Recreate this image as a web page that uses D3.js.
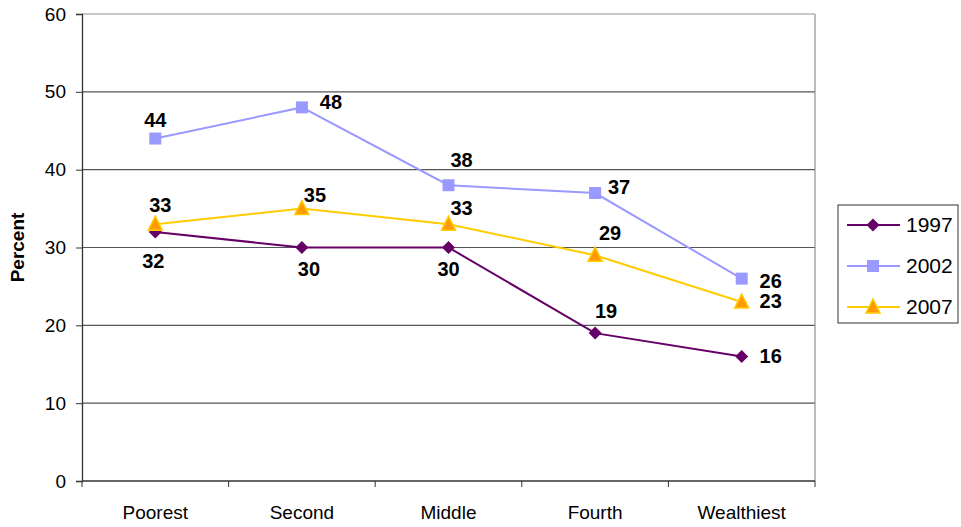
<!DOCTYPE html>
<html lang="en">
<head>
  <meta charset="utf-8">
  <title>Percent by wealth quintile</title>
  <script src="https://d3js.org/d3.v7.min.js"></script>
  <style>
    body { margin: 0; background: #fff; }
    text { font-family: "Liberation Sans", Arial, sans-serif; }
  </style>
</head>
<body>
<div class="chart"></div>
<script>

// categories and values
var categories = ["Poorest", "Second", "Middle", "Fourth", "Wealthiest"];
var years = ["1997", "2002", "2007"];
var values1997 = [32, 30, 30, 19, 16];
var values2002 = [44, 48, 38, 37, 26];
var values2007 = [33, 35, 33, 29, 23];
var yTicks = [0, 10, 20, 30, 40, 50, 60];

// where each data label sits relative to its point (dx, dy)
var labelOffsets = {
  "1997": [[-2, 29], [7, 21], [0, 21], [11, -22], [29, 0]],
  "2002": [[0, -19], [29, -5], [13, -25], [24, -6], [29, 2]],
  "2007": [[5, -19], [13, -14], [13, -16], [15, -22], [29, -1]]
};

var series = [
  {name: years[0], values: values1997, color: "#660066", marker: "diamond"},
  {name: years[1], values: values2002, color: "#9999ff", marker: "square"},
  {name: years[2], values: values2007, color: "#ffcc00", marker: "triangle"}
];

var W = 961, H = 527;
var margin = {top: 14, right: 146, bottom: 46, left: 82};
var width = W - margin.left - margin.right,
    height = H - margin.top - margin.bottom;

var svg = d3.select(".chart").append("svg")
    .attr("width", W)
    .attr("height", H);

var g = svg.append("g")
    .attr("transform", "translate(" + margin.left + "," + margin.top + ")");

var xScale = d3.scaleBand()
    .domain(categories)
    .range([0, width]);

var yScale = d3.scaleLinear()
    .domain([0, 60])
    .range([height, 0]);

function xc(i) { return xScale(categories[i]) + xScale.bandwidth() / 2; }

// gridlines
g.selectAll(".grid")
    .data(yTicks.slice(1))
  .enter().append("line")
    .attr("x1", 0)
    .attr("x2", width)
    .attr("y1", function(d) { return yScale(d); })
    .attr("y2", function(d) { return yScale(d); })
    .attr("stroke", function(d) { return d == 60 ? "#909090" : "#555"; })
    .attr("stroke-width", 1.2);

// right border of plot area
g.append("line")
    .attr("x1", width).attr("x2", width)
    .attr("y1", 0).attr("y2", height)
    .attr("stroke", "#909090")
    .attr("stroke-width", 1.2);

// y axis
var yAxis = g.append("g")
    .call(d3.axisLeft(yScale).tickValues(yTicks).tickSize(6).tickPadding(10));
yAxis.select(".domain").attr("stroke", "#333").attr("stroke-width", 1.3);
yAxis.selectAll(".tick line").attr("stroke", "#333");
yAxis.selectAll("text")
    .attr("font-size", 19)
    .attr("fill", "#000")
    .style("font-family", "Liberation Sans, Arial, sans-serif");

// x axis with ticks at category boundaries
var xAxis = g.append("g")
    .attr("transform", "translate(0," + height + ")");
xAxis.append("line")
    .attr("x1", 0).attr("x2", width)
    .attr("stroke", "#333").attr("stroke-width", 1.3);
xAxis.selectAll(".xtick")
    .data(d3.range(categories.length + 1))
  .enter().append("line")
    .attr("x1", function(i) { return i * xScale.bandwidth(); })
    .attr("x2", function(i) { return i * xScale.bandwidth(); })
    .attr("y1", 0).attr("y2", 6)
    .attr("stroke", "#333");
xAxis.selectAll(".xlabel")
    .data(categories)
  .enter().append("text")
    .attr("x", function(d, i) { return xc(i); })
    .attr("y", 38)
    .attr("text-anchor", "middle")
    .attr("font-size", 19)
    .text(function(d) { return d; });

// y axis title
svg.append("text")
    .attr("transform", "translate(24," + (margin.top + height / 2) + ") rotate(-90)")
    .attr("text-anchor", "middle")
    .attr("font-size", 19)
    .attr("font-weight", "bold")
    .text("Percent");

var line = d3.line()
    .x(function(d, i) { return xc(i); })
    .y(function(d) { return yScale(d); });

function drawMarker(sel, type, color) {
  if (type == "diamond") {
    sel.append("path")
        .attr("d", "M0,-6.5L6.5,0L0,6.5L-6.5,0Z")
        .attr("fill", color);
  } else if (type == "square") {
    sel.append("rect")
        .attr("x", -6).attr("y", -6)
        .attr("width", 12).attr("height", 12)
        .attr("fill", color);
  } else {
    sel.append("path")
        .attr("d", "M0,-8L7,6L-7,6Z")
        .attr("fill", "#ff9900")
        .attr("stroke", color)
        .attr("stroke-width", 1.5);
  }
}

// lines, markers, labels
series.forEach(function(s) {
  g.append("path")
      .datum(s.values)
      .attr("fill", "none")
      .attr("stroke", s.color)
      .attr("stroke-width", 2)
      .attr("d", line);

  s.values.forEach(function(v, i) {
    var m = g.append("g")
        .attr("transform", "translate(" + xc(i) + "," + yScale(v) + ")");
    drawMarker(m, s.marker, s.color);
  });

  g.selectAll(".lbl" + s.name)
      .data(s.values)
    .enter().append("text")
      .attr("x", function(d, i) { return xc(i) + labelOffsets[s.name][i][0]; })
      .attr("y", function(d, i) { return yScale(d) + labelOffsets[s.name][i][1]; })
      .attr("dy", "0.35em")
      .attr("text-anchor", "middle")
      .attr("font-size", 20)
      .attr("font-weight", "bold")
      .text(function(d) { return d; });
});

// legend
var legend = svg.append("g")
    .attr("transform", "translate(838,205)");
legend.append("rect")
    .attr("width", 120).attr("height", 118)
    .attr("fill", "#fff")
    .attr("stroke", "#333")
    .attr("stroke-width", 1);

series.forEach(function(s, k) {
  var row = legend.append("g")
      .attr("transform", "translate(0," + (20 + k * 41) + ")");
  row.append("line")
      .attr("x1", 9).attr("x2", 62)
      .attr("stroke", s.color)
      .attr("stroke-width", 2);
  var m = row.append("g").attr("transform", "translate(35,0)");
  drawMarker(m, s.marker, s.color);
  row.append("text")
      .attr("x", 68)
      .attr("dy", "0.35em")
      .attr("font-size", 21)
      .text(s.name);
});

</script>
</body>
</html>
